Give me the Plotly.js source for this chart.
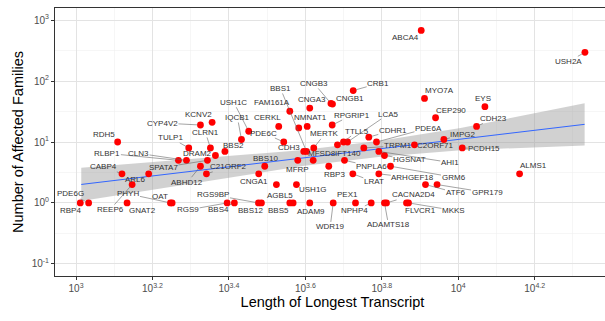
<!DOCTYPE html>
<html><head><meta charset="utf-8">
<script src="https://cdn.plot.ly/plotly-3.0.1.min.js"></script>
<style>html,body{margin:0;padding:0;overflow:hidden;background:#fff}#chart{width:612px;height:321px}</style>
</head><body><div id="chart"></div>
<script>
// ---- data ----
const genes = ["ABCA4","USH2A","CRB1","MYO7A","EYS","CEP290","CDH23","IMPG2","C2ORF71","PCDH15",
  "ALMS1","CNGB3","CNGB1","CNGA3","BBS1","FAM161A","CERKL","NMNAT1","","RPGRIP1",
  "MERTK","LCA5","TTLL5","IFT140","MFSD8","CDH3","CDHR1","PDE6A","TRPM1","HGSNAT",
  "AHI1","PNPLA6","RBP3","LRAT","ARHGEF18","GRM6","ATF6","GPR179","MFRP","BBS10",
  "CNGA1","USH1G","AGBL5","","PDE6C","USH1C","IQCB1","KCNV2","CYP4V2","RDH5",
  "TULP1","CLRN1","BBS2","DRAM2","RLBP1","CLN3","SPATA7","ABHD12","C21ORF2","CABP4",
  "ARL6","REEP6","RBP4","PDE6G","GNAT2","PHYH","OAT","RGS9BP","RGS9","BBS4",
  "BBS12","BBS5","ADAM9","WDR19","PEX1","NPHP4","CACNA2D4","ADAMTS18","FLVCR1","MKKS"];
const transcriptLength = [8000,21450,5311,8161,11742,8722,11167,9170,7682,10244,
  14470,4645,4688,4088,4008,3625,3391,4025,3826,4679,
  4188,5132,5009,4831,4173,3943,5834,6111,5661,6412,
  6197,5040,4584,5299,6197,6649,8210,8801,3803,3117,
  3006,3773,3344,3698,3495,2830,2709,2270,2116,1285,
  1972,2247,2452,2316,1853,1945,2207,2116,2194,1319,
  1549,1402,1026,1079,1360,1766,1784,3001,2485,2596,
  3055,3625,4088,4708,5385,5919,6490,6412,7323,7412];
const affectedFamilies = [680,297,70,52,38,25,18,11,9,8,
  3,43,42,36,7,32,18,18,17,19,
  8,10,10,9,5,7,12,10,8,6,
  7,5,4,3,3,4,2,2,5,4,
  3,2,2,1,10,15,11,21,19,10,
  8,8,7,6,5,5,5,4,3,3,
  3,2,1,1,1,1,1,1,1,1,
  1,1,1,1,1,1,1,1,1,1];
// linear fit on log-log scale with confidence band (read at a few x positions)
const fitLength = [1032,2116,3866,6261,10141,21410];
const fitValue  = [2.01,3.43,5.40,7.75,11.1,19.5];
const fitLower  = [1.07,2.17,3.98,5.71,7.32,8.75];
const fitUpper  = [3.76,5.42,7.32,10.5,16.9,43.3];
const xTickExponents = [3,3.2,3.4,3.6,3.8,4,4.2];
const yTickExponents = [-1,0,1,2,3];

// ---- label placement (pixel offsets from each point; layout only) ----
const labelOffsets = [[-16,7],[-16,9],[25,-7],[15,-8],[-2,-8],[15,-7],[17,-8],[19,-5],[21,1],[22,1],
  [14,-8],[-17,-20],[17,-6],[2,-9],[-26,-63],[-18,-9],[-11,-9],[3,-9],[0,0],[20,-10],
  [11,-14],[41,-28],[14,-11],[11,9],[9,-7],[-15,-4],[24,-7],[52,-14],[34,-2],[25,4],
  [71,11],[27,6],[6,8],[21,8],[34,4],[63,11],[30,8],[50,8],[0,9],[1,-8],
  [-5,8],[17,5],[4,10.5],[0,0],[-20,-9],[-15,-29],[-4,-22],[-14,-8],[-38,-2],[-14,-8],
  [-18,-10],[-5,-15.5],[9,-6],[-18,-2.4],[-71,-7],[-48,-7],[-44,7],[-13,16],[22,-7],[-18,-7],
  [-13,6],[-22,25],[-10,7.5],[-18,-9],[15,8],[-42,-9],[-12,-6],[-45,-8],[-39,7],[-16,7],
  [-11,7.5],[-11,8],[1,8.5],[-3,24],[-8,-8],[-17,8],[27,-8],[4,22],[14,7.5],[45,7.5]];

const annotations = [];
genes.forEach((g, i) => {
  if (!g) return;
  const [dx, dy] = labelOffsets[i];
  const w = g.length * 4.7, h = 9;
  const gx = Math.max(0, Math.abs(dx) - w / 2), gy = Math.max(0, Math.abs(dy) - h / 2);
  const seg = Math.hypot(gx, gy) > 6;
  annotations.push({
    x: Math.log10(transcriptLength[i]), y: Math.log10(affectedFamilies[i]),
    xref: 'x', yref: 'y', text: g, showarrow: true, arrowhead: 0,
    arrowwidth: 0.6, arrowcolor: seg ? '#666666' : 'rgba(0,0,0,0)',
    ax: dx, ay: dy, standoff: 3, borderpad: 0,
    font: {family: 'Liberation Sans, Arial, sans-serif', size: 8, color: '#333333'}
  });
});

const traces = [
  {x: fitLength, y: fitLower, mode: 'lines', line: {width: 0, color: 'rgba(0,0,0,0)'}, hoverinfo: 'skip'},
  {x: fitLength, y: fitUpper, mode: 'lines', line: {width: 0, color: 'rgba(0,0,0,0)'}, fill: 'tonexty',
   fillcolor: 'rgba(153,153,153,0.45)', hoverinfo: 'skip'},
  {x: fitLength, y: fitValue, mode: 'lines', line: {width: 1, color: '#3366FF'}},
  {x: transcriptLength, y: affectedFamilies, mode: 'markers', text: genes,
   marker: {size: 6.8, color: '#FF0000'}}
];

const pw = e => Math.pow(10, e);
const xMinor = [], yMinor = [];
for (let e = 2.9; e <= 4.45; e += 0.2) xMinor.push(pw(Math.round(e * 10) / 10));
for (let e = -0.5; e <= 3; e += 1) yMinor.push(pw(e));

const layout = {
  width: 612, height: 321,
  margin: {l: 55, r: 2, t: 8, b: 45},
  paper_bgcolor: '#ffffff', plot_bgcolor: '#ffffff',
  showlegend: false,
  font: {family: 'Liberation Sans, Arial, sans-serif'},
  xaxis: {
    type: 'log', range: [2.945, 4.397],
    tickmode: 'array', tickvals: xTickExponents.map(pw),
    ticktext: xTickExponents.map(e => '10<sup>' + e + '</sup>'),
    ticks: 'outside', ticklen: 3, tickcolor: '#333333', tickwidth: 1,
    tickfont: {size: 10, color: '#4D4D4D'},
    showgrid: true, gridcolor: '#E3E3E3', gridwidth: 1,
    minor: {tickmode: 'array', tickvals: xMinor, showgrid: true, gridcolor: '#F0F0F0', gridwidth: 0.6, ticks: ''},
    showline: true, linecolor: '#333333', linewidth: 1, mirror: true, zeroline: false,
    title: {text: 'Length of Longest Transcript', font: {size: 14.5, color: '#000000'}, standoff: 3}
  },
  yaxis: {
    type: 'log', range: [-1.2, 3.2],
    tickmode: 'array', tickvals: yTickExponents.map(pw),
    ticktext: yTickExponents.map(e => '10<sup>' + e + '</sup>'),
    ticks: 'outside', ticklen: 3, tickcolor: '#333333', tickwidth: 1,
    tickfont: {size: 10, color: '#4D4D4D'},
    showgrid: true, gridcolor: '#E3E3E3', gridwidth: 1,
    minor: {tickmode: 'array', tickvals: yMinor, showgrid: true, gridcolor: '#F0F0F0', gridwidth: 0.6, ticks: ''},
    showline: true, linecolor: '#333333', linewidth: 1, mirror: true, zeroline: false,
    title: {text: 'Number of Affected Families', font: {size: 14.5, color: '#000000'}, standoff: 4}
  },
  annotations: annotations
};

Plotly.newPlot('chart', traces, layout, {staticPlot: true, displayModeBar: false});
</script>
</body></html>
